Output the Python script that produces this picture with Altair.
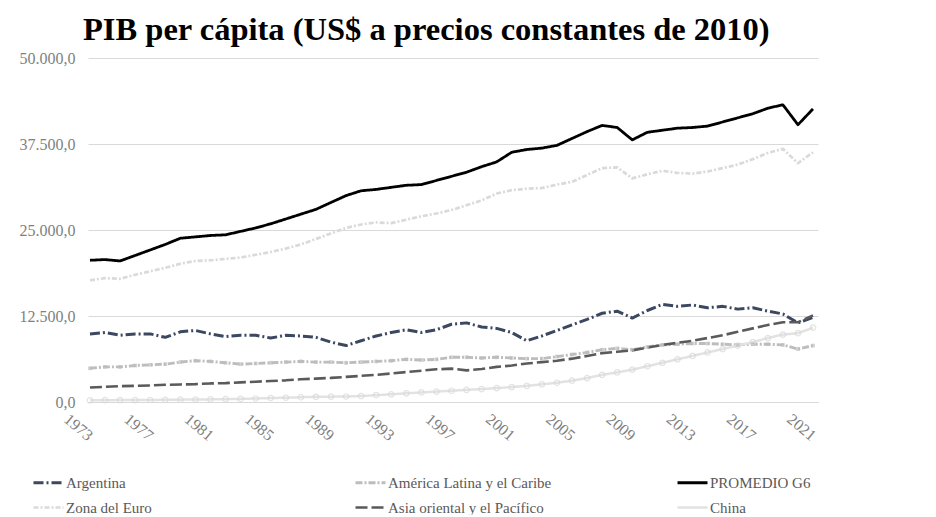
import altair as alt
import pandas as pd

years = list(range(1973, 2022))

argentina = [9900, 10100, 9700, 9900, 9900, 9400, 10200, 10400, 9900, 9500,
             9700, 9700, 9300, 9700, 9600, 9400, 8700, 8200, 8900, 9600,
             10100, 10500, 10100, 10500, 11300, 11500, 10900, 10700, 10100, 8900,
             9600, 10400, 11200, 12000, 12900, 13200, 12200, 13300, 14200, 13900,
             14100, 13700, 13900, 13500, 13700, 13200, 12800, 11500, 12300]

alc = [4900, 5100, 5100, 5300, 5400, 5500, 5800, 6000, 5900, 5700,
       5500, 5600, 5700, 5800, 5900, 5800, 5800, 5700, 5800, 5900,
       6000, 6200, 6100, 6200, 6500, 6500, 6400, 6500, 6400, 6300,
       6300, 6600, 6900, 7200, 7600, 7800, 7600, 8000, 8300, 8400,
       8500, 8500, 8400, 8300, 8400, 8400, 8300, 7700, 8200]

g6 = [20600, 20700, 20500, 21300, 22100, 22900, 23800, 24000, 24200, 24300,
      24800, 25300, 25900, 26600, 27300, 28000, 29000, 30000, 30700, 30900,
      31200, 31500, 31600, 32200, 32800, 33400, 34200, 34900, 36300, 36700,
      36900, 37300, 38300, 39300, 40200, 39900, 38100, 39200, 39500, 39800,
      39900, 40100, 40700, 41300, 41900, 42700, 43200, 40300, 42600]

euro = [17700, 18000, 17900, 18500, 19000, 19500, 20100, 20500, 20600, 20800,
        21000, 21400, 21800, 22300, 22900, 23700, 24500, 25300, 25800, 26100,
        26000, 26500, 27000, 27400, 27900, 28600, 29300, 30300, 30800, 31000,
        31100, 31600, 32000, 33000, 34000, 34100, 32500, 33100, 33600, 33300,
        33200, 33500, 34000, 34500, 35300, 36200, 36800, 34700, 36300]

asia = [2100, 2200, 2300, 2350, 2400, 2500, 2550, 2600, 2700, 2750,
        2850, 2950, 3050, 3150, 3300, 3400, 3500, 3650, 3800, 3950,
        4150, 4350, 4550, 4750, 4850, 4600, 4800, 5100, 5300, 5600,
        5800, 6000, 6300, 6700, 7100, 7300, 7500, 7900, 8300, 8600,
        8900, 9300, 9700, 10200, 10700, 11200, 11600, 11600, 12600]

china = [250, 260, 280, 270, 290, 320, 340, 360, 380, 410,
         450, 510, 580, 620, 690, 760, 780, 800, 870, 990,
         1120, 1260, 1390, 1510, 1640, 1760, 1880, 2020, 2170, 2350,
         2560, 2800, 3100, 3480, 3950, 4300, 4700, 5200, 5700, 6200,
         6700, 7200, 7700, 8200, 8700, 9300, 9800, 10000, 10800]

series_names = ["Argentina", "América Latina y el Caribe", "PROMEDIO G6",
                "Zona del Euro", "Asia oriental y el Pacífico", "China"]
series_values = [argentina, alc, g6, euro, asia, china]
series_colors = ["#3c4760", "#bdbdbd", "#000000", "#dadada", "#5a5a5a", "#e2e2e2"]
series_dash = [[10, 3, 2, 3], [7, 2, 2, 2], [1, 0], [5, 2, 2, 2], [12, 4], [1, 0]]
series_width = [3, 2.5, 4, 2, 3.5, 1.5]

y_ticks = [0, 12500, 25000, 37500, 50000]
x_ticks = list(range(1973, 2022, 4))

rows = []
for name, vals in zip(series_names, series_values):
    for yr, v in zip(years, vals):
        rows.append({"anio": yr, "serie": name, "valor": v})
df = pd.DataFrame(rows)

x_enc = alt.X("anio:Q", scale=alt.Scale(domain=[1972.87, 2021.33], nice=False, zero=False),
              axis=alt.Axis(values=x_ticks, format="d", labelAngle=40, labelAlign="center",
                            labelBaseline="middle", labelPadding=25, labelOffset=-12,
                            ticks=False, grid=False, domainColor="#d9d9d9",
                            labelFont="Liberation Serif", labelFontSize=16,
                            labelColor="#7f7f7f", title=None))
y_enc = alt.Y("valor:Q", scale=alt.Scale(domain=[0, 50000], nice=False),
              axis=alt.Axis(values=y_ticks, grid=True, gridColor="#d9d9d9", domain=False,
                            ticks=False, labelPadding=13, labelFont="Liberation Serif",
                            labelFontSize=16, labelColor="#7f7f7f", title=None,
                            labelExpr="replace(replace(replace(format(datum.value, ',.1f'), regexp(',', 'g'), '_'), regexp('[.]', 'g'), ','), regexp('_', 'g'), '.')"))


def make_legend():
    return alt.Legend(orient="none", legendX=-56, legendY=408, direction="horizontal",
                      columns=3, gridAlign="all", columnPadding=119, rowPadding=-8,
                      symbolType="stroke", symbolSize=900, labelFont="Liberation Serif",
                      labelFontSize=15, labelColor="#595959", labelOffset=1, labelLimit=400,
                      title=None)


lines = alt.Chart(df).mark_line(strokeCap="butt", strokeJoin="round").encode(
    x=x_enc,
    y=y_enc,
    color=alt.Color("serie:N", scale=alt.Scale(domain=series_names, range=series_colors),
                    sort=series_names, legend=make_legend()),
    strokeDash=alt.StrokeDash("serie:N", scale=alt.Scale(domain=series_names, range=series_dash),
                              sort=series_names, legend=make_legend()),
    strokeWidth=alt.StrokeWidth("serie:N", scale=alt.Scale(domain=series_names, range=series_width),
                                sort=series_names, legend=make_legend()),
    order=alt.Order("anio:Q"),
)

pts_alc = alt.Chart(df[df["serie"] == "América Latina y el Caribe"]).mark_point(
    shape="square", filled=True, size=14, color="#bdbdbd").encode(x="anio:Q", y="valor:Q")
pts_china = alt.Chart(df[df["serie"] == "China"]).mark_point(
    shape="circle", filled=False, size=30, color="#d8d8d8", strokeWidth=1.2).encode(x="anio:Q", y="valor:Q")

chart = alt.layer(lines, pts_alc, pts_china).properties(
    width=730, height=344,
    background="white",
    autosize=alt.AutoSizeParams(type="none"),
    padding={"left": 80, "top": 50, "right": 110, "bottom": 113},
    title=alt.TitleParams("PIB per cápita (US$ a precios constantes de 2010)",
                          font="Liberation Serif", fontSize=32.5, fontWeight="bold",
                          color="#000000", anchor="start", frame="group", dx=-5, offset=4),
).configure_view(stroke=None)

chart.save("out.html", embed_options={"renderer": "svg", "actions": False})
